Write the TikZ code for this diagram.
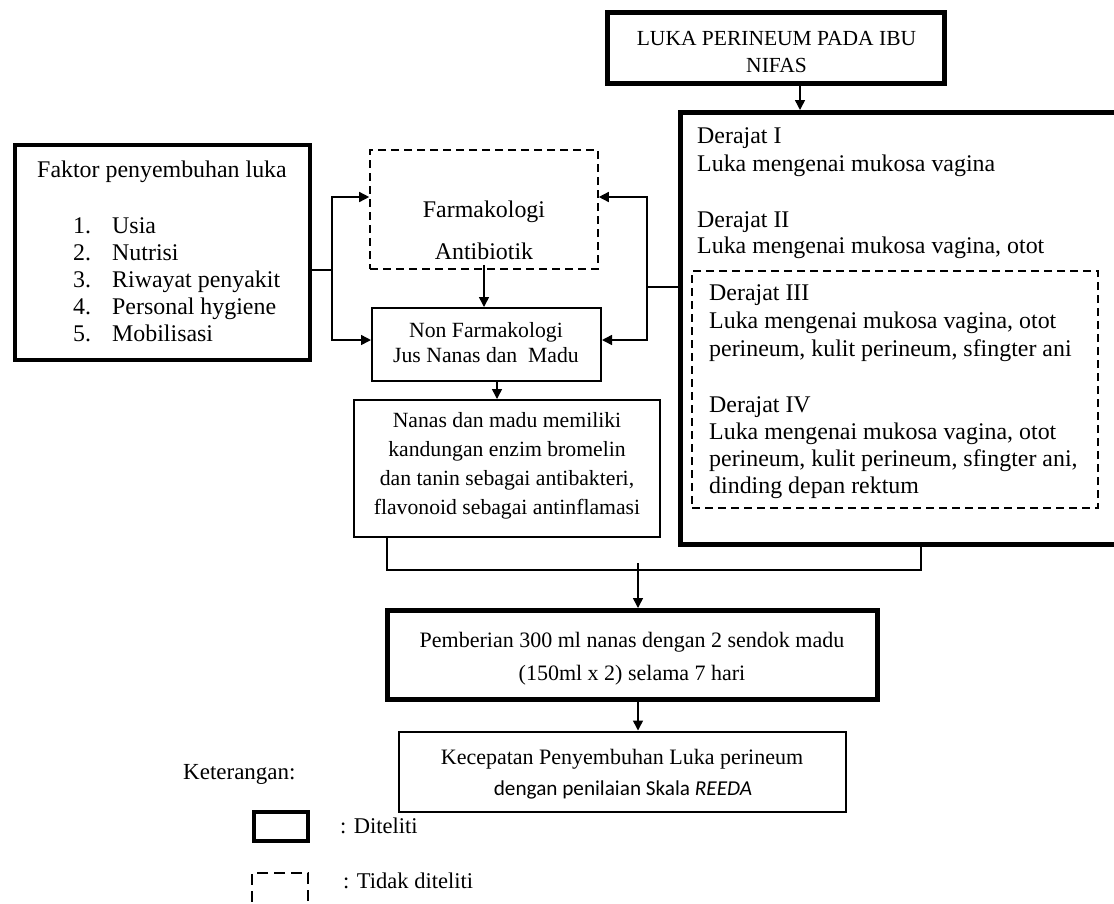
\documentclass[tikz,border=0pt]{standalone}
\usepackage{fontspec}
\setmainfont{Liberation Serif}
\newfontfamily\carl{Carlito}
\usetikzlibrary{arrows.meta}
\newcommand\myfs[2]{\fontsize{#1}{#2}\selectfont}
\begin{document}
\begin{tikzpicture}[x=1pt,y=-1pt,
  thickbox/.style={draw,line width=4.5pt,inner sep=0pt},
  thinbox/.style={draw,line width=2pt,inner sep=0pt},
  dashbox/.style={draw,line width=1.6pt,dash pattern=on 8pt off 5pt,inner sep=0pt,fill=white},
  txt/.style={inner sep=0pt,anchor=base},
  txtl/.style={inner sep=0pt,anchor=base west},
  conn/.style={line width=1.5pt},
  arr/.style={line width=1.5pt,-{Triangle[length=10pt,width=10pt]}},
  big/.style={font=\myfs{23.9}{28}},
  mid/.style={font=\myfs{21.7}{27}},
  sml/.style={font=\myfs{22}{27}}
]
\useasboundingbox (0,0) rectangle (1114,903);
\clip (0,0) rectangle (1114,903);

% boxes
\node[thickbox,minimum width=337pt,minimum height=71pt] (top) at (776,48) {};
\node[thickbox,line width=5pt,minimum width=445pt,minimum height=432pt] (deg) at (903,328.5) {};
\node[dashbox,minimum width=406pt,minimum height=237pt] (deg34) at (895,389.5) {};
\node[thickbox,minimum width=295pt,minimum height=215pt] (faktor) at (162.5,252.5) {};
\node[dashbox,minimum width=228pt,minimum height=119pt] (farm) at (484,209.5) {};
\node[thinbox,minimum width=229pt,minimum height=73pt] (nonf) at (486.5,344.5) {};
\node[thinbox,minimum width=306pt,minimum height=137pt] (nanas) at (507,468.5) {};
\node[thickbox,line width=5pt,minimum width=490pt,minimum height=89pt] (pemb) at (632.5,655) {};
\node[thinbox,minimum width=447pt,minimum height=80pt] (kec) at (622.5,771.5) {};

% top text
\node[txt,font=\myfs{21.5}{27}] (topa) at (776.5,45) {LUKA PERINEUM PADA IBU};
\node[txt,font=\myfs{21.5}{27}] (topb) at (776.5,72) {NIFAS};

% derajat text
\node[txtl,big] (d1a) at (697,143) {Derajat I};
\node[txtl,big] (d1b) at (697,171) {Luka mengenai mukosa vagina};
\node[txtl,big] (d2a) at (697,227) {Derajat II};
\node[txtl,big] (d2b) at (697,253) {Luka mengenai mukosa vagina, otot};
\node[txtl,big] (d3a) at (709,300) {Derajat III};
\node[txtl,big] (d3b) at (709,328) {Luka mengenai mukosa vagina, otot};
\node[txtl,big] (d3c) at (709,356) {perineum, kulit perineum, sfingter ani};
\node[txtl,big] (d4a) at (709,412) {Derajat IV};
\node[txtl,big] (d4b) at (709,439) {Luka mengenai mukosa vagina, otot};
\node[txtl,big] (d4c) at (709,466) {perineum, kulit perineum, sfingter ani,};
\node[txtl,big] (d4d) at (709,493) {dinding depan rektum};

% faktor text
\node[txt,big] (ft) at (162,177) {Faktor penyembuhan luka};
\node[txtl,big] (n1) at (73,233) {1.};
\node[txtl,big] (i1) at (112,233) {Usia};
\node[txtl,big] (n2) at (73,260) {2.};
\node[txtl,big] (i2) at (112,260) {Nutrisi};
\node[txtl,big] (n3) at (73,287) {3.};
\node[txtl,big] (i3) at (112,287) {Riwayat penyakit};
\node[txtl,big] (n4) at (73,314) {4.};
\node[txtl,big] (i4) at (112,314) {Personal hygiene};
\node[txtl,big] (n5) at (73,341) {5.};
\node[txtl,big] (i5) at (112,341) {Mobilisasi};

% farmakologi
\node[txt,big] (fa) at (484,217) {Farmakologi};
\node[txt,big] (fb) at (484,259) {Antibiotik};
\node[txt,mid] (nfa) at (486,337) {Non Farmakologi};
\node[txt,mid] (nfb) at (486,362) {Jus Nanas dan\ \ Madu};

% nanas
\node[txt,mid] (na1) at (507,427) {Nanas dan madu memiliki};
\node[txt,mid] (na2) at (507,456) {kandungan enzim bromelin};
\node[txt,mid] (na3) at (507,485) {dan tanin sebagai antibakteri,};
\node[txt,mid] (na4) at (507,514) {flavonoid sebagai antinflamasi};

% pemberian / kecepatan
\node[txt,sml] (pa) at (632,647) {Pemberian 300 ml nanas dengan 2 sendok madu};
\node[txt,sml] (pb) at (632,680) {(150ml x 2) selama 7 hari};
\node[txt,sml] (ka) at (622,764) {Kecepatan Penyembuhan Luka perineum};
\node[txt,font=\carl\myfs{21.2}{27}] (kb) at (623,795) {dengan penilaian Skala \textit{REEDA}};

% legend
\node[txtl,font=\myfs{23}{27}] (ket) at (183,779) {Keterangan:};
\node[thickbox,minimum width=54pt,minimum height=29pt] (lg1) at (281,826.5) {};
\node[txtl,font=\myfs{22.5}{27}] (lg1t) at (340,833) {: Diteliti};
\node[dashbox,line width=2pt,dash pattern=on 11pt off 6pt,minimum width=56pt,minimum height=40pt] (lg2) at (280,893) {};
\node[txtl,font=\myfs{22.5}{27}] (lg2t) at (343,888) {: Tidak diteliti};

% connectors
\coordinate (jL) at (332,270);
\coordinate (jLt) at (332,197);
\coordinate (jLb) at (332,340);
\coordinate (jR) at (647,287);
\coordinate (jRt) at (647,197);
\coordinate (jRb) at (647,340);
\coordinate (jB1) at (387,570);
\coordinate (jB2) at (921,570);
\coordinate (jB3) at (638,570);

\draw[arr] ([xshift=24pt]top.south) -- ([xshift=24pt]top.south |- deg.north);
\draw[conn] (faktor.east |- jL) -- (jL);
\draw[arr] (jL) |- (farm.west |- jLt);
\draw[arr] (jL) |- (nonf.west |- jLb);
\draw[conn] (deg.west |- jR) -- (jR);
\draw[arr] (jR) |- (farm.east |- jRt);
\draw[arr] (jR) |- (nonf.east |- jRb);
\draw[arr] ([yshift=5pt]farm.south) -- (farm.south |- nonf.north);
\draw[arr] ([xshift=10.5pt]nonf.south) -- ([xshift=10.5pt]nonf.south |- nanas.north);
\draw[conn] (nanas.south -| jB1) -- (jB1) -- (jB2) -- (deg.south -| jB2);
\draw[arr] ([yshift=7pt]jB3) -- (jB3 |- pemb.north);
\draw[arr] (pemb.south -| jB3) -- (jB3 |- kec.north);
\end{tikzpicture}
\end{document}
